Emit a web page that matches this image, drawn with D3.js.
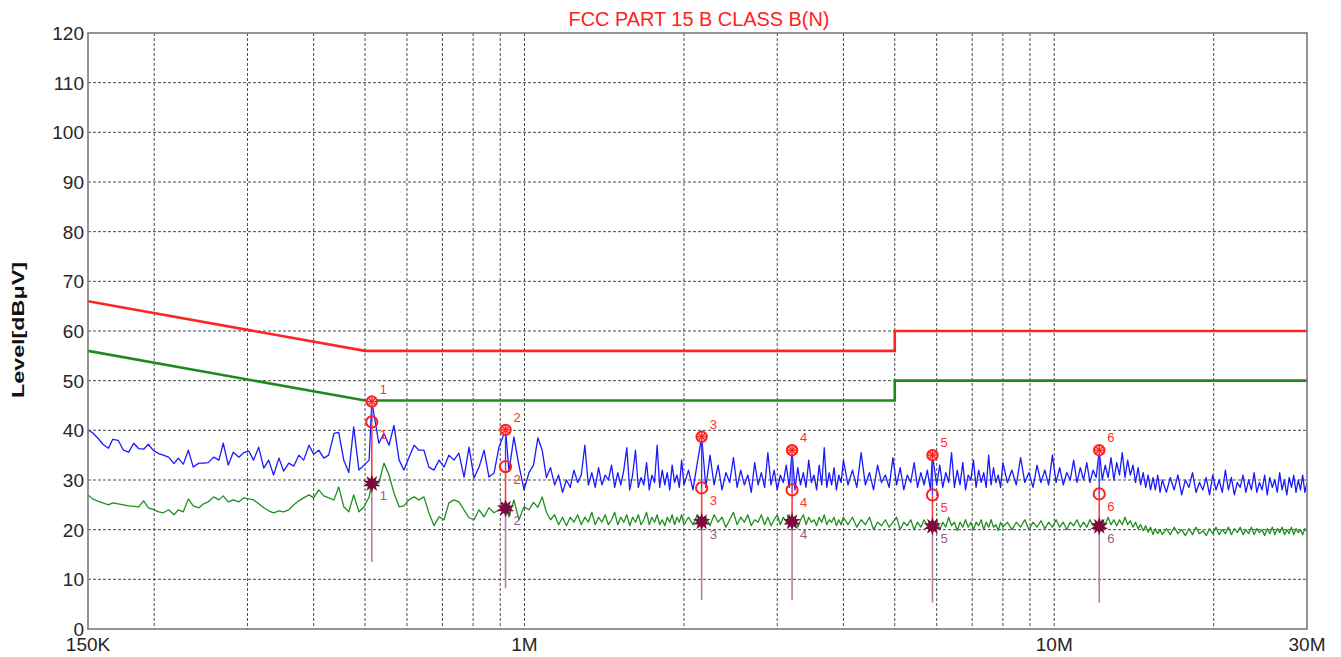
<!DOCTYPE html>
<html>
<head>
<meta charset="utf-8">
<script src="https://cdn.jsdelivr.net/npm/d3@7"></script>
<style>
  html, body { margin: 0; padding: 0; background: #ffffff; }
  svg { display: block; }
  text { font-family: "Liberation Sans", Arial, sans-serif; }
</style>
</head>
<body>
<svg id="chart" width="1341" height="657"></svg>
<script>
// ---------------- DATA ----------------
const titleText = "FCC PART 15 B CLASS B(N)";
const yAxisTitle = "Level[dBμV]";
const yTickValues = [0, 10, 20, 30, 40, 50, 60, 70, 80, 90, 100, 110, 120];
const xTickValues = [0.15, 1, 10, 30];
const xTickLabels = ["150K", "1M", "10M", "30M"];
const xGridValues = [0.2, 0.3, 0.4, 0.5, 0.6, 0.7, 0.8, 0.9, 1, 2, 3, 4, 5, 6, 7, 8, 9, 10, 20];

// limit lines (MHz, dBuV)
const qpLimitFreq = [0.15, 0.5, 5, 5, 30];
const qpLimitLevel = [66, 56, 56, 60, 60];
const avLimitFreq = [0.15, 0.5, 5, 5, 30];
const avLimitLevel = [56, 46, 46, 50, 50];

// measured sweep (MHz)
const freqMHz = [
  0.150,0.153,0.157,0.160,0.164,0.167,0.171,0.175,0.179,0.183,0.187,0.191,0.195,0.199,0.204,0.208,0.213,0.218,0.222,0.227,
  0.232,0.237,0.243,0.248,0.253,0.259,0.265,0.270,0.276,0.282,0.289,0.295,0.302,0.308,0.315,0.322,0.329,0.336,0.344,0.351,
  0.359,0.367,0.375,0.383,0.392,0.400,0.409,0.418,0.427,0.437,0.446,0.456,0.466,0.476,0.487,0.498,0.509,0.515,0.531,0.543,
  0.555,0.567,0.580,0.592,0.605,0.619,0.632,0.646,0.660,0.675,0.690,0.705,0.720,0.736,0.752,0.769,0.786,0.803,0.821,0.839,
  0.857,0.876,0.895,0.921,0.935,0.955,0.976,0.998,
  1.02,1.04,1.06,1.08,1.10,1.12,1.14,1.16,1.18,1.20,1.22,1.24,1.26,1.28,1.30,1.32,1.34,1.36,1.38,1.40,
  1.42,1.44,1.46,1.48,1.50,1.52,1.54,1.56,1.58,1.60,1.62,1.64,1.66,1.68,1.70,1.72,1.74,1.76,1.78,1.80,
  1.82,1.84,1.86,1.88,1.90,1.92,1.94,1.96,1.98,2.00,
  2.04,2.08,2.12,2.16,2.20,2.24,2.28,2.32,2.36,2.40,2.44,2.48,2.52,2.56,2.60,2.64,2.68,2.72,2.76,2.80,
  2.84,2.88,2.92,2.96,3.00,3.04,3.08,3.12,3.16,3.20,3.24,3.28,3.32,3.36,3.40,3.44,3.48,3.52,3.56,3.60,
  3.64,3.68,3.72,3.76,3.80,3.84,3.88,3.92,3.96,4.00,
  4.08,4.16,4.24,4.32,4.40,4.48,4.56,4.64,4.72,4.80,4.88,4.96,5.04,5.12,5.20,5.28,5.36,5.44,5.52,5.60,
  5.68,5.76,5.84,5.89,6.00,6.08,6.16,6.24,6.32,6.40,6.48,6.56,6.64,6.72,6.80,6.88,6.96,7.04,7.12,7.20,
  7.28,7.36,7.44,7.52,7.60,7.68,7.76,7.84,7.92,8.00,
  8.16,8.32,8.48,8.64,8.80,8.96,9.12,9.28,9.44,9.60,9.76,9.92,10.08,10.24,10.40,10.56,10.72,10.88,11.04,11.20,
  11.36,11.52,11.68,11.84,12.00,12.16,12.32,12.48,12.64,12.80,12.96,13.12,13.28,13.44,13.60,13.76,13.92,14.08,14.24,14.40,
  14.56,14.72,14.88,15.04,15.20,15.36,15.52,15.68,15.84,16.00,
  16.28,16.56,16.84,17.12,17.40,17.68,17.96,18.24,18.52,18.80,19.08,19.36,19.64,19.92,20.20,20.48,20.76,21.04,21.32,21.60,
  21.88,22.16,22.44,22.72,23.00,23.28,23.56,23.84,24.12,24.40,24.68,24.96,25.24,25.52,25.80,26.08,26.36,26.64,26.92,27.20,
  27.48,27.76,28.04,28.32,28.60,28.88,29.16,29.44,29.72,30.00
];

// peak detector trace (dBuV)
const peakLevel = [
  40.1,39.5,38.3,37.2,36.4,38.2,38.0,36.0,35.6,37.4,36.3,36.2,37.2,36.0,35.3,35.0,34.6,33.3,34.4,33.2,
  36.0,32.6,33.4,33.4,33.5,34.6,34.0,37.4,33.0,35.6,34.6,35.5,35.8,34.0,36.6,32.4,34.0,31.0,34.4,31.8,
  33.4,32.8,35.0,34.0,37.0,35.2,36.0,34.4,35.0,39.4,39.6,34.0,31.5,40.7,32.0,33.0,34.0,45.8,37.4,39.4,
  37.0,41.0,34.0,32.0,34.5,37.0,36.0,36.0,32.6,32.0,34.0,32.6,35.0,34.0,35.4,30.6,36.6,30.4,32.6,36.0,
  30.6,31.4,36.6,40.1,31.8,38.7,33.0,28.0,
  31.5,33.0,38.5,36.0,30.5,32.5,29.0,31.0,27.5,30.0,28.5,32.0,29.5,31.0,37.0,29.0,31.5,28.5,32.5,29.0,
  31.0,30.0,33.0,28.5,31.5,29.0,32.0,36.5,28.0,31.0,36.0,28.5,30.5,29.0,33.5,28.0,31.0,29.5,37.0,28.5,
  32.0,29.0,31.5,28.0,33.0,29.5,31.0,28.5,34.0,29.0,
  32.0,28.0,33.5,38.7,28.5,35.0,29.0,33.0,28.0,31.5,29.5,34.5,28.5,32.0,29.0,31.0,27.5,33.5,29.0,31.5,
  28.5,35.5,29.0,32.0,28.0,31.0,29.5,33.0,28.5,36.0,28.0,32.5,29.0,31.5,28.5,34.0,29.5,31.0,28.0,33.0,
  29.0,36.5,28.5,31.5,29.0,32.5,28.0,31.0,29.5,34.0,
  29.0,32.0,28.5,35.5,29.0,31.5,28.0,33.0,29.5,31.0,28.5,34.5,29.0,32.5,28.0,31.0,29.5,33.5,28.5,31.5,
  29.0,32.0,28.0,35.0,29.0,33.0,28.5,31.5,29.5,35.5,28.5,32.0,29.0,33.5,28.0,31.0,30.0,34.0,28.5,32.0,
  29.5,31.5,28.5,35.0,29.0,32.5,29.5,31.0,28.5,33.5,
  29.5,32.0,29.0,34.5,29.5,31.5,28.5,33.0,29.5,32.0,29.0,35.0,29.5,32.5,29.0,31.5,30.0,34.0,29.5,32.5,
  30.0,33.5,29.5,32.0,30.5,36.0,30.0,33.0,30.5,34.5,30.0,33.5,31.0,35.5,30.5,34.0,31.0,33.0,29.5,32.5,
  29.0,31.5,28.5,31.0,28.0,30.5,28.0,31.0,27.5,30.0,
  27.5,30.5,28.0,31.0,27.0,30.0,28.5,31.5,27.5,29.5,28.0,30.5,27.0,31.0,28.0,30.0,27.5,32.0,28.0,30.5,
  27.0,29.5,28.5,31.0,27.5,30.0,28.0,31.5,27.5,29.5,28.0,31.0,27.0,30.5,28.5,30.0,27.5,31.5,28.0,30.0,
  27.0,30.5,28.5,31.0,27.5,30.0,28.0,31.0,27.5,29.5
];

// average detector trace (dBuV)
const avgLevel = [
  27.0,26.2,25.7,25.4,25.0,25.4,25.2,25.0,24.8,24.7,24.6,25.8,24.4,24.1,23.6,23.4,24.0,23.0,24.0,23.6,
  26.2,24.8,24.4,25.2,25.6,26.6,26.0,26.8,25.6,26.0,25.6,26.4,26.2,26.0,25.2,24.4,23.8,23.4,23.8,23.6,
  24.0,25.0,25.8,26.4,27.0,26.4,28.0,26.8,26.4,26.0,28.6,24.6,23.6,27.0,23.6,24.6,26.6,29.3,29.4,33.4,
  31.0,27.4,24.6,24.8,26.0,26.6,26.0,26.6,23.4,20.8,22.6,22.0,25.4,26.0,25.6,24.0,22.4,22.0,24.0,22.6,
  24.4,23.4,24.0,24.3,22.6,26.0,22.0,24.6,
  24.0,25.5,24.5,26.6,23.5,22.0,23.0,21.0,22.5,20.8,22.5,21.5,23.0,21.0,22.5,21.5,23.5,21.0,22.5,21.5,
  23.0,21.0,22.0,23.5,21.0,22.5,21.5,23.0,20.8,22.5,21.5,23.0,21.0,22.0,23.5,21.0,22.5,21.5,23.0,21.0,
  22.0,20.8,22.5,21.5,23.0,21.0,22.5,21.5,23.0,21.0,
  22.5,21.0,23.0,21.6,22.5,20.8,23.0,21.5,22.5,20.5,22.0,23.5,21.0,22.5,21.5,23.0,20.8,22.0,21.5,23.0,
  21.0,22.5,20.8,22.0,23.0,21.0,22.5,21.5,23.0,21.6,22.5,20.5,22.0,23.0,21.0,22.5,21.5,22.0,20.8,22.5,
  21.5,23.0,21.0,22.0,21.5,22.5,20.8,22.0,21.0,22.5,
  21.0,22.5,20.5,22.0,21.0,22.5,20.0,21.5,20.8,22.0,20.5,21.5,22.5,20.0,21.5,20.8,22.0,20.0,21.5,20.5,
  22.0,20.8,21.5,20.7,22.0,20.0,21.5,20.5,22.5,20.8,21.5,19.8,21.5,20.5,22.0,20.5,21.5,20.0,21.5,20.8,
  22.0,20.0,21.5,20.5,22.0,20.5,21.0,19.8,21.5,20.5,
  21.5,20.0,21.5,20.5,22.0,20.0,21.5,20.5,21.8,20.2,21.5,20.5,22.0,20.5,21.5,20.0,21.5,20.8,22.0,20.5,
  21.5,20.5,22.0,20.8,21.5,20.7,22.0,21.0,22.5,21.0,22.0,20.8,22.0,21.0,22.5,21.0,21.8,20.5,21.5,20.2,
  21.0,19.8,20.8,19.5,20.5,19.0,20.2,19.2,20.0,19.0,
  20.2,19.0,20.5,19.2,20.0,18.8,20.2,19.0,20.5,19.2,19.8,18.8,20.2,19.2,20.5,19.0,20.0,19.2,20.5,19.0,
  20.2,19.4,20.5,19.0,20.0,19.2,20.5,19.0,20.2,19.4,20.0,18.8,20.2,19.2,20.5,19.0,20.2,19.4,20.5,19.0,
  20.0,19.2,20.5,19.0,20.2,19.4,20.0,19.0,20.2,19.6
];

// final measurement markers
const markerIds = ["1", "2", "3", "4", "5", "6"];
const markerFreq = [0.515, 0.921, 2.16, 3.20, 5.89, 12.16];
const markerPeak = [45.8, 40.1, 38.7, 36.0, 35.0, 36.0];
const markerQP = [41.7, 32.7, 28.4, 28.0, 27.0, 27.2];
const markerAV = [29.3, 24.3, 21.6, 21.6, 20.7, 20.7];
const markerStemEnd = [13.5, 8.2, 5.8, 5.8, 5.3, 5.3];

// ---------------- CHART ----------------
const svg = d3.select("#chart");
const margin = { left: 88, top: 33, right: 34, bottom: 28 };
const W = 1341 - margin.left - margin.right;   // 1219
const H = 657 - margin.top - margin.bottom;    // 596

const x = d3.scaleLog().domain([0.15, 30]).range([0, W]);
const y = d3.scaleLinear().domain([0, 120]).range([H, 0]);

const g = svg.append("g").attr("transform", `translate(${margin.left},${margin.top})`);

svg.append("defs").append("clipPath").attr("id", "plotClip")
  .append("rect").attr("x", 0).attr("y", 0).attr("width", W).attr("height", H);

// grid
const gridG = g.append("g");
gridG.selectAll("line.v").data(xGridValues).join("line")
  .attr("x1", d => x(d)).attr("x2", d => x(d)).attr("y1", 0).attr("y2", H)
  .attr("stroke", "#4a4a4a").attr("stroke-width", 1).attr("stroke-dasharray", "3,2");
gridG.selectAll("line.h").data(yTickValues.filter(v => v > 0 && v < 120)).join("line")
  .attr("x1", 0).attr("x2", W).attr("y1", d => y(d)).attr("y2", d => y(d))
  .attr("stroke", "#4a4a4a").attr("stroke-width", 1).attr("stroke-dasharray", "3,2");

// traces
const line = d3.line().x(d => x(d[0])).y(d => y(d[1]));
const plotG = g.append("g").attr("clip-path", "url(#plotClip)");

const avgData = freqMHz.map((f, i) => [f, avgLevel[i]]);
const peakData = freqMHz.map((f, i) => [f, peakLevel[i]]);

plotG.append("path").datum(avgData).attr("d", line)
  .attr("fill", "none").attr("stroke", "#1f8f1f").attr("stroke-width", 1.3).attr("stroke-linejoin", "round");
plotG.append("path").datum(peakData).attr("d", line)
  .attr("fill", "none").attr("stroke", "#1a1aff").attr("stroke-width", 1.3).attr("stroke-linejoin", "round");

// limit lines
const qpData = qpLimitFreq.map((f, i) => [f, qpLimitLevel[i]]);
const avData = avLimitFreq.map((f, i) => [f, avLimitLevel[i]]);
plotG.append("path").datum(qpData).attr("d", line)
  .attr("fill", "none").attr("stroke", "#ff2424").attr("stroke-width", 2.6);
plotG.append("path").datum(avData).attr("d", line)
  .attr("fill", "none").attr("stroke", "#1e8a1e").attr("stroke-width", 2.6);

// markers
const mk = markerIds.map((id, i) => ({
  id, f: markerFreq[i], pk: markerPeak[i], qp: markerQP[i], av: markerAV[i], end: markerStemEnd[i]
}));
const mG = plotG.append("g");
mk.forEach(m => {
  const cx = x(m.f);
  const gm = mG.append("g");
  // stems
  gm.append("line").attr("x1", cx).attr("x2", cx).attr("y1", y(m.av)).attr("y2", y(m.end))
    .attr("stroke", "#b06a92").attr("stroke-width", 1.6).attr("opacity", 0.85);
  gm.append("line").attr("x1", cx).attr("x2", cx).attr("y1", y(m.qp)).attr("y2", y(m.av))
    .attr("stroke", "#ff3a3a").attr("stroke-width", 1.6);
  gm.append("line").attr("x1", cx).attr("x2", cx).attr("y1", y(m.pk)).attr("y2", y(m.qp))
    .attr("stroke", "#3a3aff").attr("stroke-width", 1.4);
  // peak symbol (hatched red circle)
  const py = y(m.pk);
  gm.append("circle").attr("cx", cx).attr("cy", py).attr("r", 5.2)
    .attr("fill", "#ffd0d0").attr("stroke", "#ff2020").attr("stroke-width", 2);
  [[-3.6, -3.6, 3.6, 3.6], [-3.6, 3.6, 3.6, -3.6], [-5.2, 0, 5.2, 0], [0, -5.2, 0, 5.2]].forEach(s => {
    gm.append("line").attr("x1", cx + s[0]).attr("y1", py + s[1]).attr("x2", cx + s[2]).attr("y2", py + s[3])
      .attr("stroke", "#ff2020").attr("stroke-width", 1.3);
  });
  // QP ring
  gm.append("circle").attr("cx", cx).attr("cy", y(m.qp)).attr("r", 5.6)
    .attr("fill", "none").attr("stroke", "#ff2020").attr("stroke-width", 2);
  // AV star burst
  const star = d3.symbol().type(d3.symbolStar).size(95);
  gm.append("path").attr("d", star()).attr("transform", `translate(${cx},${y(m.av)})`)
    .attr("fill", "#7d0a3e");
  gm.append("path").attr("d", star()).attr("transform", `translate(${cx},${y(m.av)}) rotate(36)`)
    .attr("fill", "#7d0a3e");
  gm.append("circle").attr("cx", cx).attr("cy", y(m.av)).attr("r", 4.2).attr("fill", "#7d0a3e");
  // labels
  gm.append("text").attr("x", cx + 8).attr("y", py - 8).text(m.id)
    .attr("font-size", 13).attr("fill", "#ff3030");
  gm.append("text").attr("x", cx + 8).attr("y", y(m.qp) + 17).text(m.id)
    .attr("font-size", 13).attr("fill", "#ff3030");
  gm.append("text").attr("x", cx + 8).attr("y", y(m.av) + 17).text(m.id)
    .attr("font-size", 13).attr("fill", "#9a5a86");
});

// frame
g.append("rect").attr("x", 0).attr("y", 0).attr("width", W).attr("height", H)
  .attr("fill", "none").attr("stroke", "#7a7a7a").attr("stroke-width", 1.6);

// y tick labels
g.append("g").selectAll("text").data(yTickValues).join("text")
  .attr("x", -4).attr("y", d => y(d)).attr("dy", "0.36em")
  .attr("text-anchor", "end").attr("font-size", 19).attr("fill", "#262626")
  .text(d => d);

// x tick labels
g.append("g").selectAll("text").data(xTickValues).join("text")
  .attr("x", d => x(d)).attr("y", H + 22)
  .attr("text-anchor", "middle").attr("font-size", 19).attr("fill", "#262626")
  .text((d, i) => xTickLabels[i]);

// y axis title
svg.append("text")
  .attr("transform", `translate(24,330) rotate(-90)`)
  .attr("text-anchor", "middle").attr("font-size", 17).attr("font-weight", "bold").attr("fill", "#111")
  .attr("textLength", 136).attr("lengthAdjust", "spacingAndGlyphs")
  .text(yAxisTitle);

// title
svg.append("text").attr("x", 699).attr("y", 26).attr("text-anchor", "middle")
  .attr("font-size", 20).attr("fill", "#ff2020")
  .attr("textLength", 261).attr("lengthAdjust", "spacingAndGlyphs")
  .text(titleText);
</script>
</body>
</html>
